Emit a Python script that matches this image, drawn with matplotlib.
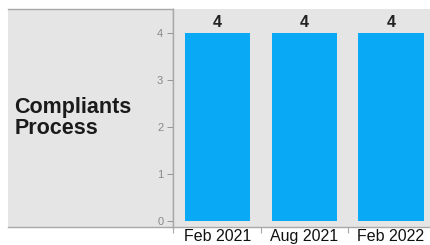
import matplotlib.pyplot as plt

periods = ["Feb 2021", "Aug 2021", "Feb 2022"]
counts = [4, 4, 4]
panel_title = "Compliants\nProcess"

bg = "#e5e5e5"
edge = "#a8a8a8"
bar_color = "#0aa9f6"

fig = plt.figure(figsize=(4.31, 2.45), dpi=100)
fig.patch.set_facecolor("white")
plt.rcParams["font.family"] = ["Liberation Sans", "DejaVu Sans"]

W, H = 431, 245
# left label panel
panel = fig.add_axes([8 / W, 1 - 227 / H, (173 - 8) / W, (227 - 9) / H])
panel.set_facecolor(bg)
panel.set_xticks([])
panel.set_yticks([])
panel.spines["left"].set_visible(False)
for s in ["top", "bottom", "right"]:
    panel.spines[s].set_color(edge)
    panel.spines[s].set_linewidth(1)
panel.text(0.04, 0.5, panel_title, transform=panel.transAxes, fontsize=15.5,
           fontweight="bold", va="center", ha="left", color="#1a1a1a", linespacing=0.95)

ax = fig.add_axes([173 / W, 1 - 227 / H, (431 - 173) / W, (227 - 9) / H])
ax.set_facecolor(bg)
x = range(len(periods))
ax.bar(x, counts, width=0.75, color=bar_color, zorder=2)
for xi, v in zip(x, counts):
    ax.text(xi, v + 0.06, str(v), ha="center", va="bottom", fontsize=11.5,
            fontweight="bold", color="#222222")

ax.set_xlim(-0.51, 2.46)
ax.set_ylim(-0.13, 4.5)
ax.set_yticks([0, 1, 2, 3, 4])
ax.tick_params(axis="y", labelsize=8, colors="#888888", length=4, width=0.6, pad=3)
ax.set_xticks(list(x))
ax.set_xticklabels(periods)
ax.set_xticks([-0.51, 0.5, 1.5], minor=True)
ax.tick_params(axis="x", which="major", length=0, labelsize=11.5, labelcolor="#111111", pad=1.5)
ax.tick_params(axis="x", which="minor", length=4, color=edge, width=0.8)
for s in ["top", "right"]:
    ax.spines[s].set_visible(False)
for s in ["left", "bottom"]:
    ax.spines[s].set_color(edge)
    ax.spines[s].set_linewidth(1)

fig.savefig("out.png", dpi=100)
